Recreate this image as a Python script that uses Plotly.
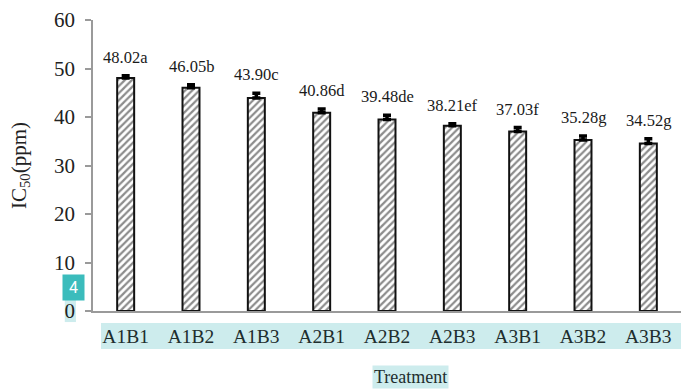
import plotly.graph_objects as go

treatments = ["A1B1", "A1B2", "A1B3", "A2B1", "A2B2", "A2B3", "A3B1", "A3B2", "A3B3"]
ic50 = [48.02, 46.05, 43.90, 40.86, 39.48, 38.21, 37.03, 35.28, 34.52]
letters = ["a", "b", "c", "d", "de", "ef", "f", "g", "g"]
errors = [0.5, 0.6, 1.0, 0.8, 0.9, 0.4, 0.8, 0.8, 1.0]
y_ticks = [0, 10, 20, 30, 40, 50, 60]

SERIF = "Liberation Serif, Times New Roman, serif"
HIGHLIGHT = "#cdeced"
BADGE = "#3bbcbc"

fig = go.Figure()
fig.add_trace(go.Bar(
    x=treatments,
    y=ic50,
    width=0.26,
    marker=dict(
        color="white",
        line=dict(color="#111111", width=2),
        pattern=dict(shape="/", fgcolor="#1a1a1a", bgcolor="white",
                     size=5, solidity=0.45),
    ),
    error_y=dict(type="data", array=errors, arrayminus=[0] * len(errors),
                 symmetric=False, color="#000000", thickness=3.5, width=4),
    showlegend=False,
    hoverinfo="skip",
))

# value + significance letters above each error bar
for t, v, e, l in zip(treatments, ic50, errors, letters):
    fig.add_annotation(
        x=t, y=v + e, text=f"{v:.2f}{l}", showarrow=False,
        yanchor="bottom", yshift=7,
        font=dict(family=SERIF, size=16.5, color="#1a1a1a"),
    )

# axis title
fig.add_annotation(
    xref="paper", yref="paper", x=0.54, y=-0.227, yanchor="middle",
    text="Treatment", showarrow=False, bgcolor=HIGHLIGHT, borderpad=1,
    font=dict(family=SERIF, size=18, color="#1e2e2e"),
)

# highlight band behind the category labels
fig.add_shape(type="rect", xref="paper", yref="paper", layer="below",
              x0=0.0136, x1=1.0, y0=-0.131, y1=-0.041,
              fillcolor=HIGHLIGHT, line=dict(width=0))
# small highlight behind the zero tick label
fig.add_shape(type="rect", xref="paper", yref="paper", layer="below",
              x0=-0.048, x1=-0.029, y0=-0.038, y1=0.045,
              fillcolor=HIGHLIGHT, line=dict(width=0))

# numbered badge
fig.add_annotation(
    xref="paper", yref="paper", x=-0.033, y=0.08,
    xanchor="center", yanchor="middle",
    text="4", showarrow=False, bgcolor=BADGE, borderpad=0,
    width=21, height=25,
    font=dict(family="Roboto, sans-serif", size=16, color="white"),
)

fig.update_layout(
    width=681, height=389,
    margin=dict(l=93, r=0, t=20, b=78),
    paper_bgcolor="white", plot_bgcolor="white",
    bargap=0.74,
    xaxis=dict(
        showline=True, linecolor="#9a9a9a", linewidth=1.5,
        ticks="", showgrid=False, zeroline=False,
        ticklabelstandoff=7,
        tickfont=dict(family=SERIF, size=19.5, color="#1e2e2e"),
    ),
    yaxis=dict(
        range=[0, 60], tickvals=y_ticks, ticktext=[str(v) for v in y_ticks],
        showline=True, linecolor="#9a9a9a", linewidth=1.5,
        ticks="outside", ticklen=6, tickcolor="#9a9a9a", tickwidth=1.5,
        ticklabelstandoff=6,
        showgrid=False, zeroline=False,
        tickfont=dict(family=SERIF, size=21, color="#222222"),
        title=dict(text="IC<sub>50</sub>(ppm)", standoff=22,
                   font=dict(family=SERIF, size=21, color="#222222")),
    ),
)

fig.write_html("out.html")
